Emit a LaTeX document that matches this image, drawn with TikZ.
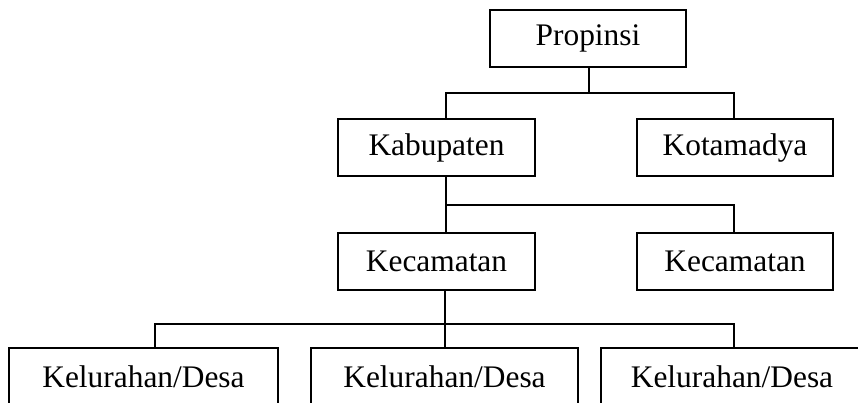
\documentclass[tikz,border=0pt]{standalone}
\usepackage{fontspec}
\setmainfont{Liberation Serif}
\begin{document}
\begin{tikzpicture}[x=1pt,y=-1pt,
  box/.style={draw, line width=1.8pt, minimum height=57pt, inner sep=0pt,
    font=\fontsize{31.4}{36}\selectfont},
  conn/.style={line width=1.4pt}]
\useasboundingbox (0,0) rectangle (858,403);
\clip (0,0) rectangle (858,403);
\node[box, minimum width=196pt] (prop) at (588,38.5) {Propinsi};
\node[box, minimum width=197pt] (kab) at (436.5,147.5) {Kabupaten};
\node[box, minimum width=196pt] (kota) at (735,147.5) {Kotamadya};
\node[box, minimum width=197pt] (kec1) at (436.5,261.5) {Kecamatan};
\node[box, minimum width=196pt] (kec2) at (735,261.5) {Kecamatan};
\node[box, minimum width=269pt] (kel1) at (143.5,376.5) {Kelurahan/Desa};
\node[box, minimum width=267pt] (kel2) at (444.5,376.5) {Kelurahan/Desa};
\node[box, minimum width=262pt] (kel3) at (732,376.5) {Kelurahan/Desa};
\coordinate (j1) at (589,93);
\coordinate (j2) at (446,205);
\coordinate (j3) at (445,324);
% level 1
\draw[conn] (prop.south -| j1) -- (j1);
\draw[conn] (kab.north -| j2) |- (j1) -| ([xshift=-1pt]kota.north);
% level 2
\draw[conn] (kab.south -| j2) -- (kec1.north -| j2);
\draw[conn] (j2) -| ([xshift=-1pt]kec2.north);
% level 3
\draw[conn] (kec1.south -| j3) -- (kel2.north -| j3);
\draw[conn] ([xshift=11.5pt]kel1.north) |- (j3) -| ([xshift=2pt]kel3.north);
\end{tikzpicture}
\end{document}
